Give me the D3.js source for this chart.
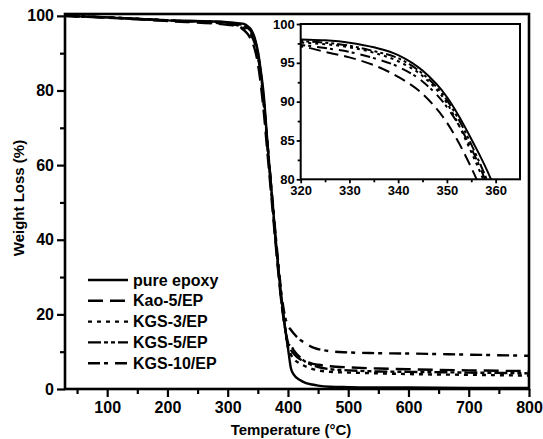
<!DOCTYPE html>
<html><head><meta charset="utf-8">
<script src="https://cdn.jsdelivr.net/npm/d3@7/dist/d3.min.js"></script>
<style>
body{margin:0;background:#fff;}
text{font-family:"Liberation Sans",Arial,sans-serif;font-weight:bold;fill:#000;}
</style></head>
<body><svg id="c" width="543" height="439"></svg>
<script>
const temps = [30,100,200,300,320,325,330,335,340,345,350,355,360,365,370,375,380,385,390,395,400,405,410,420,430,440,450,470,500,550,600,700,800];
const pureEpoxy = [100,99.6,98.8,98.3,98.0,97.9,97.6,97.0,96.0,94.0,90.6,85.2,78.5,68,58,49,39.5,31,23,16.5,11,5.5,3.8,2.4,1.6,1.2,0.9,0.6,0.5,0.4,0.4,0.3,0.3];
const kao5 = [100,99.5,98.6,97.6,97.1,96.4,95.7,94.7,93.2,91.0,87.3,81.5,74,65,56,47,38,29.5,22,16.5,12.5,10.5,9.4,8.0,7.3,6.8,6.5,6.1,5.8,5.5,5.3,5.0,4.8];
const kgs3 = [100,99.6,98.8,98.1,97.6,97.4,97.0,96.3,95.2,93.3,89.8,83.5,76,67,57.5,48.5,39,30.5,22.5,16.5,11.2,9.2,8.0,6.8,6.0,5.4,5.0,4.6,4.4,4.2,4.0,3.8,3.6];
const kgs5 = [100,99.6,98.8,98.2,97.8,97.6,97.2,96.5,95.6,93.6,90.2,84.5,77,67.5,58,48.5,39,30.5,22.8,16.8,12.0,11.6,10.3,8.5,7.2,6.4,5.9,5.3,5.0,4.7,4.6,4.4,4.2];
const kgs10 = [100,99.6,98.8,97.8,97.3,96.9,96.4,95.6,94.5,92.6,89.3,84.0,76.5,67.5,58.5,49.5,40.5,32,24.5,19.5,17.0,15.8,14.8,13.2,12.2,11.2,10.7,10.1,9.8,9.6,9.5,9.2,8.9];
const seriesNames = ["pure epoxy","Kao-5/EP","KGS-3/EP","KGS-5/EP","KGS-10/EP"];
const seriesValues = [pureEpoxy,kao5,kgs3,kgs5,kgs10];
const xTicks = [100,200,300,400,500,600,700,800];
const yTicks = [0,20,40,60,80,100];
const insetXTicks = [320,330,340,350,360];
const insetYTicks = [80,85,90,95,100];

const dashes = [null,"15,7","4,5","13,3,4,3,4,3","12,4,4,7"];
const dashesInset = [null,"12,6","3,4","10,3,3,3,3,3","10,3,3,6"];

const svg = d3.select("#c");
const L=65,R=529,T=14,B=389;
const x = d3.scaleLinear().domain([30,800]).range([L,R]);
const y = d3.scaleLinear().domain([0,100.5]).range([B,T]);

const series = seriesNames.map((n,i)=>({name:n,dash:dashes[i],dashIn:dashesInset[i],
  pts:temps.map((t,j)=>[t,seriesValues[i][j]])}));

// main curves
const line = d3.line().x(d=>x(d[0])).y(d=>y(d[1])).curve(d3.curveMonotoneX);
svg.append("g").selectAll("path").data(series).join("path")
  .attr("d",d=>line(d.pts)).attr("fill","none").attr("stroke","#000")
  .attr("stroke-width",2.4).attr("stroke-dasharray",d=>d.dash);

// axes
const fs=16;
const xAx = svg.append("g").attr("transform",`translate(0,${B})`)
  .call(d3.axisBottom(x).tickValues(xTicks).tickSize(8).tickSizeOuter(0).tickPadding(5));
const xMin = svg.append("g").attr("transform",`translate(0,${B})`)
  .call(d3.axisBottom(x).tickValues(d3.range(50,800,100)).tickSize(5).tickFormat(""));
const yAx = svg.append("g").attr("transform",`translate(${L},0)`)
  .call(d3.axisLeft(y).tickValues(yTicks).tickSize(8).tickSizeOuter(0).tickPadding(3));
const yMin = svg.append("g").attr("transform",`translate(${L},0)`)
  .call(d3.axisLeft(y).tickValues(d3.range(10,100,20)).tickSize(5).tickFormat(""));
[xAx,xMin,yAx,yMin].forEach(g=>{g.select(".domain").remove();
  g.selectAll("line").attr("stroke","#000").attr("stroke-width",2.2);
  g.selectAll("text").attr("font-size",fs).attr("font-family",null).attr("font-weight","bold");});
svg.append("rect").attr("x",L).attr("y",T).attr("width",R-L).attr("height",B-T)
  .attr("fill","none").attr("stroke","#000").attr("stroke-width",2.6);

svg.append("text").attr("x",291).attr("y",435).attr("text-anchor","middle")
  .attr("font-size",15).text("Temperature (°C)");
svg.append("text").attr("transform","translate(24,198) rotate(-90)").attr("text-anchor","middle")
  .attr("font-size",15).text("Weight Loss (%)");

// legend
const lg = svg.append("g");
series.forEach((s,i)=>{
  const yy = 280 + i*20.8;
  lg.append("line").attr("x1",88).attr("x2",128).attr("y1",yy).attr("y2",yy)
    .attr("stroke","#000").attr("stroke-width",2.4).attr("stroke-dasharray",s.dash);
  lg.append("text").attr("x",133).attr("y",yy+5.5).attr("font-size",fs).text(s.name);
});

// inset
const iL=300.7,iR=520,iT=24,iB=179.3;
const xi = d3.scaleLinear().domain([320,365]).range([iL,iR]);
const yi = d3.scaleLinear().domain([80,100]).range([iB,iT]);
svg.append("rect").attr("x",iL).attr("y",iT).attr("width",iR-iL).attr("height",iB-iT).attr("fill","#fff");
svg.append("clipPath").attr("id","ic").append("rect").attr("x",iL).attr("y",iT).attr("width",iR-iL).attr("height",iB-iT);
const lineI = d3.line().x(d=>xi(d[0])).y(d=>yi(d[1])).curve(d3.curveMonotoneX);
svg.append("g").attr("clip-path","url(#ic)").selectAll("path").data(series).join("path")
  .attr("d",d=>lineI(d.pts)).attr("fill","none").attr("stroke","#000")
  .attr("stroke-width",2).attr("stroke-dasharray",d=>d.dashIn);
const fsi=13;
const ixA = svg.append("g").attr("transform",`translate(0,${iB})`)
  .call(d3.axisBottom(xi).tickValues(insetXTicks).tickSize(4).tickSizeOuter(0).tickPadding(2));
const ixM = svg.append("g").attr("transform",`translate(0,${iB})`)
  .call(d3.axisBottom(xi).tickValues([325,335,345,355]).tickSize(3).tickFormat(""));
const iyA = svg.append("g").attr("transform",`translate(${iL},0)`)
  .call(d3.axisLeft(yi).tickValues(insetYTicks).tickSize(4).tickSizeOuter(0).tickPadding(2));
const iyM = svg.append("g").attr("transform",`translate(${iL},0)`)
  .call(d3.axisLeft(yi).tickValues([82.5,87.5,92.5,97.5]).tickSize(3).tickFormat(""));
[ixA,ixM,iyA,iyM].forEach(g=>{g.select(".domain").remove();
  g.selectAll("line").attr("stroke","#000").attr("stroke-width",1.8);
  g.selectAll("text").attr("font-size",fsi).attr("font-family",null).attr("font-weight","bold");});
svg.append("rect").attr("x",iL).attr("y",iT).attr("width",iR-iL).attr("height",iB-iT)
  .attr("fill","none").attr("stroke","#000").attr("stroke-width",2);
</script></body></html>
